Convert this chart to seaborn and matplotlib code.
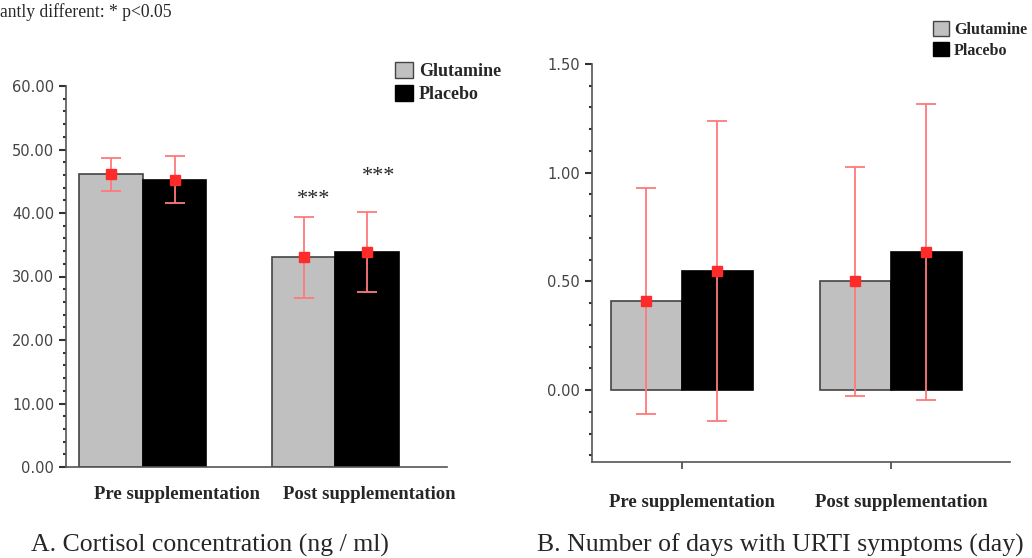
import matplotlib
matplotlib.use("Agg")
import matplotlib.pyplot as plt
import matplotlib.transforms as mtrans
from matplotlib.ticker import MultipleLocator, FormatStrFormatter
import seaborn as sns
import pandas as pd
import numpy as np

phases = ["Pre supplementation", "Post supplementation"]
groups = ["Glutamine", "Placebo"]

# A. cortisol (ng / ml)
cort_glut = [46.1, 33.0]
cort_plac = [45.2, 33.9]
cort_glut_sd = [2.6, 6.4]
cort_plac_sd = [3.7, 6.3]

# B. days with URTI symptoms
urti_glut = [0.41, 0.50]
urti_plac = [0.55, 0.635]
urti_glut_sd = [0.52, 0.525]
urti_plac_sd = [0.69, 0.68]

gray = "#c0c0c0"
err_col = "#ff7a7a"
mark_col = "#ff2a2a"

sns.set_style("ticks")
plt.rcParams["font.family"] = ["DejaVu Sans"]

fig = plt.figure(figsize=(10.32, 5.58), dpi=100)
axA = fig.add_axes([66/1032, 1-467/558, 381/1032, 381/558])
axB = fig.add_axes([592/1032, 1-462/558, 418/1032, 398/558])


def panel(ax, glut, plac, gsd, psd, width):
    df = pd.DataFrame({
        "phase": phases * 2,
        "group": [groups[0]] * 2 + [groups[1]] * 2,
        "value": glut + plac,
        "sd": gsd + psd,
    })
    sns.barplot(data=df, x="phase", y="value", hue="group", order=phases,
                hue_order=groups, palette=[gray, "black"], width=width,
                errorbar=None, ax=ax, legend=False, linewidth=1.2)
    for p in ax.patches:
        p.set_edgecolor("#444444" if p.get_facecolor()[0] > 0.5 else "black")
    # error bars at bar centres (patch order: glut pre, glut post, plac pre, plac post)
    xs = [p.get_x() + p.get_width() / 2 for p in ax.patches]
    ys = [p.get_height() for p in ax.patches]
    ax.errorbar(xs, ys, yerr=df["sd"].values, fmt="none", ecolor=err_col,
                elinewidth=1.3, capsize=7, capthick=1.3, zorder=4)
    ax.plot(xs, ys, "s", color=mark_col, ms=7, zorder=5, ls="none")
    ax.set_xlabel("")
    ax.set_ylabel("")
    sns.despine(ax=ax)
    for s in ["left", "bottom"]:
        ax.spines[s].set_color("#555555")
        ax.spines[s].set_linewidth(1.2)
    ax.tick_params(axis="y", which="major", length=5, width=1.5,
                   color="#333333", labelcolor="#444444", labelsize=10.5)
    ax.tick_params(axis="y", which="minor", length=2.5, width=1.5,
                   color="#333333")
    ax.yaxis.set_major_formatter(FormatStrFormatter("%.2f"))
    return xs


catfont = dict(fontfamily="Liberation Serif", fontweight="bold", fontsize=13.5)

# ---- panel A
xsA = panel(axA, cort_glut, cort_plac, cort_glut_sd, cort_plac_sd, 0.66)
axA.set_ylim(0, 60)
axA.set_xlim(-0.40, 1.58)
axA.yaxis.set_major_locator(MultipleLocator(10))
axA.yaxis.set_minor_locator(MultipleLocator(2))
axA.set_xticks([0, 1])
axA.set_xticklabels(phases, **catfont)
axA.tick_params(axis="x", length=0, pad=14)
off = mtrans.ScaledTranslation(34/100, 0, fig.dpi_scale_trans)
for lab in axA.get_xticklabels():
    lab.set_transform(lab.get_transform() + off)
axA.text(xsA[1] + 0.05, 42.2, "***", ha="center", va="center", fontsize=16,
         fontfamily="Liberation Serif")
axA.text(xsA[3] + 0.06, 45.7, "***", ha="center", va="center", fontsize=16,
         fontfamily="Liberation Serif")

# ---- panel B
xsB = panel(axB, urti_glut, urti_plac, urti_glut_sd, urti_plac_sd, 0.68)
axB.set_ylim(-0.33, 1.5)
axB.set_xlim(-0.43, 1.57)
axB.yaxis.set_major_locator(MultipleLocator(0.5))
axB.yaxis.set_minor_locator(MultipleLocator(0.1))
axB.set_xticks([0, 1])
axB.set_xticklabels(phases, **catfont)
axB.tick_params(axis="x", length=5, width=1.2, color="#444444", pad=18)
offB = mtrans.ScaledTranslation(10/100, 0, fig.dpi_scale_trans)
for lab in axB.get_xticklabels():
    lab.set_transform(lab.get_transform() + offB)

# legends
handles = [plt.Rectangle((0, 0), 1, 1, facecolor=gray, edgecolor="#444444"),
           plt.Rectangle((0, 0), 1, 1, facecolor="black", edgecolor="black")]
legkw = dict(frameon=False, handlelength=1.0, handleheight=1.0,
             handletextpad=0.3, labelspacing=0.25, borderaxespad=0)
fig.legend(handles, groups, loc="upper left",
           bbox_to_anchor=(388/1032, 1-55/558),
           prop={"family": "Liberation Serif", "weight": "bold", "size": 13},
           **legkw)
fig.legend(handles, groups, loc="upper left",
           bbox_to_anchor=(927/1032, 1-15/558),
           prop={"family": "Liberation Serif", "weight": "bold", "size": 11.5},
           **legkw)

# captions
fig.text(0, 1-12/558, "antly different: * p<0.05", ha="left", va="center",
         fontsize=12.7, fontfamily="Liberation Serif")
fig.text(210/1032, 1-545/558, "A. Cortisol concentration (ng / ml)",
         ha="center", va="center", fontsize=18.5, fontfamily="Liberation Serif")
fig.text(780/1032, 1-545/558, "B. Number of days with URTI symptoms (day)",
         ha="center", va="center", fontsize=18.5, fontfamily="Liberation Serif")

fig.savefig("out.png", dpi=100)
